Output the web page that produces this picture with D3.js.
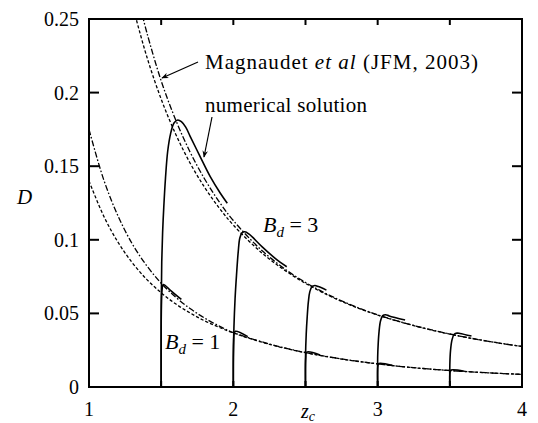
<!DOCTYPE html>
<html>
<head><script src="https://cdn.jsdelivr.net/npm/d3@7"></script></head>
<body style="margin:0">
<svg id="chart" width="538" height="423"></svg>
<script>
// Axis ticks
const xTickLabels = [1, 2, 3, 4];
const xMinorTicks = [1.5, 2, 2.5, 3, 3.5];
const yTicks = [0, 0.05, 0.1, 0.15, 0.2, 0.25];
const yTickLabels = ["0", "0.05", "0.1", "0.15", "0.2", "0.25"];

// Upper branch (B_d = 3): dashed curve and Magnaudet et al. correlation
const upperZ = [1.32, 1.4, 1.5, 1.6, 1.7, 1.8, 1.9, 2.0, 2.2, 2.4, 2.6, 2.8, 3.0, 3.25, 3.5, 3.75, 4.0];
const upperDashed = [0.2525, 0.2245, 0.1956, 0.1719, 0.1522, 0.1358, 0.1219, 0.1100, 0.0909, 0.0764, 0.0651, 0.0561, 0.0489, 0.0417, 0.0359, 0.0313, 0.0275];
const upperMagZ = [1.37, 1.4, 1.5, 1.6, 1.7, 1.8, 1.9, 2.0, 2.2, 2.4, 2.6, 2.8, 3.0, 3.25, 3.5, 3.75, 4.0];
const upperMagnaudet = [0.2525, 0.241, 0.208, 0.1816, 0.1597, 0.1415, 0.1261, 0.1131, 0.0925, 0.0772, 0.0656, 0.0564, 0.0490, 0.0418, 0.0360, 0.0313, 0.0275];

// Lower branch (B_d = 1)
const lowerZ = [1.0, 1.1, 1.2, 1.3, 1.4, 1.5, 1.6, 1.7, 1.8, 1.9, 2.0, 2.25, 2.5, 2.75, 3.0, 3.25, 3.5, 3.75, 4.0];
const lowerDashed = [0.140, 0.1165, 0.0985, 0.0844, 0.0731, 0.0640, 0.0565, 0.0503, 0.0450, 0.0406, 0.0367, 0.0290, 0.0233, 0.0190, 0.0157, 0.0131, 0.0112, 0.0097, 0.0086];
const lowerMagnaudet = [0.175, 0.1414, 0.1164, 0.0972, 0.0824, 0.0705, 0.0611, 0.0533, 0.0469, 0.0415, 0.0370, 0.0292, 0.0234, 0.0191, 0.0157, 0.0131, 0.0112, 0.0097, 0.0086];

// Numerical solutions, B_d = 3, released at z_c = 1.5, 2, 2.5, 3, 3.5  ([z_c, D] pairs)
const runB3a = [[1.5, 0], [1.5, 0.03], [1.501, 0.06], [1.504, 0.085], [1.510, 0.105], [1.518, 0.122], [1.53, 0.142], [1.545, 0.16], [1.565, 0.172], [1.59, 0.1795], [1.615, 0.1814], [1.64, 0.1802], [1.67, 0.1765], [1.70, 0.1705], [1.77, 0.1565], [1.84, 0.1429], [1.91, 0.1316], [1.958, 0.1248]];
const runB3b = [[2.0, 0], [2.0, 0.02], [2.004, 0.04], [2.012, 0.06], [2.022, 0.076], [2.034, 0.092], [2.045, 0.1012], [2.06, 0.1047], [2.08, 0.1055], [2.11, 0.1038], [2.2, 0.0952], [2.29, 0.0874], [2.37, 0.0817]];
const runB3c = [[2.5, 0], [2.5, 0.02], [2.505, 0.036], [2.512, 0.048], [2.52, 0.058], [2.53, 0.0648], [2.545, 0.0682], [2.565, 0.0690], [2.59, 0.0682], [2.645, 0.0658]];
const runB3d = [[3.0, 0], [3.0, 0.02], [3.004, 0.03], [3.01, 0.038], [3.02, 0.045], [3.035, 0.0485], [3.055, 0.0491], [3.08, 0.0483], [3.19, 0.0455]];
const runB3e = [[3.5, 0], [3.5, 0.015], [3.505, 0.025], [3.515, 0.032], [3.53, 0.0358], [3.55, 0.0366], [3.57, 0.0364], [3.65, 0.0346]];

// Numerical solutions, B_d = 1
const runB1a = [[1.5, 0], [1.5, 0.04], [1.502, 0.058], [1.506, 0.066], [1.513, 0.0695], [1.525, 0.0692], [1.56, 0.066], [1.64, 0.0595]];
const runB1b = [[2.0, 0], [2.002, 0.03], [2.006, 0.0365], [2.015, 0.0378], [2.1, 0.0342]];
const runB1c = [[2.5, 0], [2.502, 0.02], [2.508, 0.0237], [2.6, 0.0218]];
const runB1d = [[3.0, 0], [3.002, 0.0145], [3.008, 0.0160], [3.1, 0.0148]];
const runB1e = [[3.5, 0], [3.502, 0.0104], [3.508, 0.0115], [3.6, 0.0107]];

const margin = { left: 89, top: 19, right: 16, bottom: 36 };
const W = 538, H = 423;
const iw = W - margin.left - margin.right;
const ih = H - margin.top - margin.bottom;

const svg = d3.select("#chart");
const x = d3.scaleLinear().domain([1, 4]).range([0, iw]);
const y = d3.scaleLinear().domain([0, 0.25]).range([ih, 0]);

const defs = svg.append("defs");
defs.append("clipPath").attr("id", "plotClip")
  .append("rect").attr("x", 0).attr("y", 0).attr("width", iw).attr("height", ih);

const g = svg.append("g").attr("transform", `translate(${margin.left},${margin.top})`);
const plot = g.append("g").attr("clip-path", "url(#plotClip)");

const line = d3.line().x(d => x(d[0])).y(d => y(d[1])).curve(d3.curveCatmullRom.alpha(0.5));
const zip = (zs, ds) => zs.map((z, i) => [z, ds[i]]);

const dashStyle = "3.2,2";
const dashDotStyle = "6,2,1.6,2";

function drawCurve(data, dash, width) {
  plot.append("path").datum(data)
    .attr("d", line)
    .attr("fill", "none")
    .attr("stroke", "#000")
    .attr("stroke-width", width)
    .attr("stroke-dasharray", dash);
}

drawCurve(zip(upperZ, upperDashed), dashStyle, 1.3);
drawCurve(zip(upperMagZ, upperMagnaudet), dashDotStyle, 1.3);
drawCurve(zip(lowerZ, lowerDashed), dashStyle, 1.3);
drawCurve(zip(lowerZ, lowerMagnaudet), dashDotStyle, 1.3);

[runB3a, runB3b, runB3c, runB3d, runB3e, runB1a, runB1b, runB1c, runB1d, runB1e]
  .forEach(run => drawCurve(run, null, 1.6));

// Frame and inward ticks
const axes = g.append("g").attr("stroke", "#000").attr("fill", "none");
axes.append("rect").attr("x", 0).attr("y", 0).attr("width", iw).attr("height", ih).attr("stroke-width", 2);
yTicks.slice(1, -1).forEach(t => {
  axes.append("line").attr("x1", 0).attr("x2", 10).attr("y1", y(t)).attr("y2", y(t)).attr("stroke-width", 2);
  axes.append("line").attr("x1", iw - 10).attr("x2", iw).attr("y1", y(t)).attr("y2", y(t)).attr("stroke-width", 2);
});
xMinorTicks.forEach(t => {
  axes.append("line").attr("x1", x(t)).attr("x2", x(t)).attr("y1", 0).attr("y2", 6).attr("stroke-width", 2);
  axes.append("line").attr("x1", x(t)).attr("x2", x(t)).attr("y1", ih).attr("y2", ih - 6).attr("stroke-width", 2);
});

// Text helper: every label is set in the serif face
function label(parent, px, py, size) {
  return parent.append("text").attr("x", px).attr("y", py).attr("font-size", size)
    .style("font-family", `"Liberation Serif"`);
}

// Tick labels
const fs = 20;
yTicks.forEach((t, i) => {
  label(g, -10, y(t) + 7, fs).attr("text-anchor", "end").text(yTickLabels[i]);
});
xTickLabels.forEach(t => {
  label(g, x(t), ih + 29, fs).attr("text-anchor", "middle").text(t);
});

// Axis titles
label(svg, 17, 204, 21).attr("font-style", "italic").text("D");
const xt = label(svg, 301, 418, 20).attr("font-style", "italic");
xt.append("tspan").text("z");
xt.append("tspan").attr("font-size", 14).attr("dy", 3).text("c");

// Annotations
const mag = label(svg, 205, 69, 21).attr("textLength", 273).attr("lengthAdjust", "spacing");
mag.append("tspan").text("Magnaudet ");
mag.append("tspan").attr("font-style", "italic").text("et al");
mag.append("tspan").text(" (JFM, 2003)");

label(svg, 205, 112, 21).attr("textLength", 162).attr("lengthAdjust", "spacing").text("numerical solution");

function bdLabel(px, py, val) {
  const t = label(svg, px, py, 22);
  t.append("tspan").attr("font-style", "italic").text("B");
  t.append("tspan").attr("font-style", "italic").attr("font-size", 15).attr("dy", 5).text("d");
  t.append("tspan").attr("dy", -5).text(" = " + val);
}
bdLabel(263, 232, 3);
bdLabel(165, 349, 1);

// Arrows
defs.append("marker").attr("id", "arrow").attr("viewBox", "0 0 10 10")
  .attr("refX", 9).attr("refY", 5).attr("markerWidth", 7).attr("markerHeight", 7)
  .attr("markerUnits", "userSpaceOnUse").attr("orient", "auto")
  .append("path").attr("d", "M0,1 L10,5 L0,9 L3,5 Z").attr("fill", "#000");

svg.append("line").attr("x1", 198).attr("y1", 62).attr("x2", 162).attr("y2", 78)
  .attr("stroke", "#000").attr("stroke-width", 1.2).attr("marker-end", "url(#arrow)");
svg.append("line").attr("x1", 212).attr("y1", 117).attr("x2", 204).attr("y2", 157)
  .attr("stroke", "#000").attr("stroke-width", 1.2).attr("marker-end", "url(#arrow)");
</script>
</body>
</html>
